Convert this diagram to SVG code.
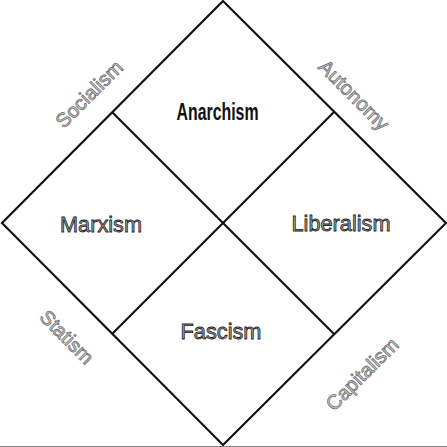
<svg xmlns="http://www.w3.org/2000/svg" width="447" height="447" viewBox="0 0 447 447">
  <style>
    .edge { fill: none; stroke: #111; stroke-width: 2.2; stroke-linejoin: miter; }
    .main { font-family: "Liberation Sans", Arial, sans-serif; font-size: 22px; fill: #a0a0a0; stroke: #222; stroke-width: 0.8; text-anchor: middle; }
    .bold { font-family: "Liberation Sans", Arial, sans-serif; font-size: 23px; font-weight: bold; fill: #111; text-anchor: middle; }
    .side { font-family: "Liberation Sans", Arial, sans-serif; font-size: 20px; fill: #d0d0d0; stroke: #707070; stroke-width: 0.8; text-anchor: middle; }
  </style>
  <rect width="447" height="447" fill="#fff"/>
  <g id="connectors">
    <polygon class="edge" points="223,1 446,223 223,445 2,223"/>
    <line class="edge" x1="112" y1="112" x2="334" y2="334"/>
    <line class="edge" x1="334" y1="112" x2="112" y2="334"/>
    <line x1="0" y1="446.5" x2="447" y2="446.5" stroke="#808080" stroke-width="1"/>
  </g>
  <g id="anarchism"><text class="bold" x="217.5" y="119.5" textLength="82" lengthAdjust="spacingAndGlyphs">Anarchism</text></g>
  <g id="marxism"><text class="main" x="101" y="232" textLength="82" lengthAdjust="spacingAndGlyphs">Marxism</text></g>
  <g id="liberalism"><text class="main" x="341" y="230.5" textLength="99" lengthAdjust="spacingAndGlyphs">Liberalism</text></g>
  <g id="fascism"><text class="main" x="221" y="339" textLength="81" lengthAdjust="spacingAndGlyphs">Fascism</text></g>
  <g id="socialism"><text class="side" transform="translate(89,94) rotate(-45)" x="0" y="7">Socialism</text></g>
  <g id="autonomy"><text class="side" transform="translate(354,95) rotate(45)" x="0" y="7">Autonomy</text></g>
  <g id="statism"><text class="side" transform="translate(67,337) rotate(45)" x="0" y="7">Statism</text></g>
  <g id="capitalism"><text class="side" transform="translate(362,374) rotate(-45)" x="0" y="7">Capitalism</text></g>
</svg>
